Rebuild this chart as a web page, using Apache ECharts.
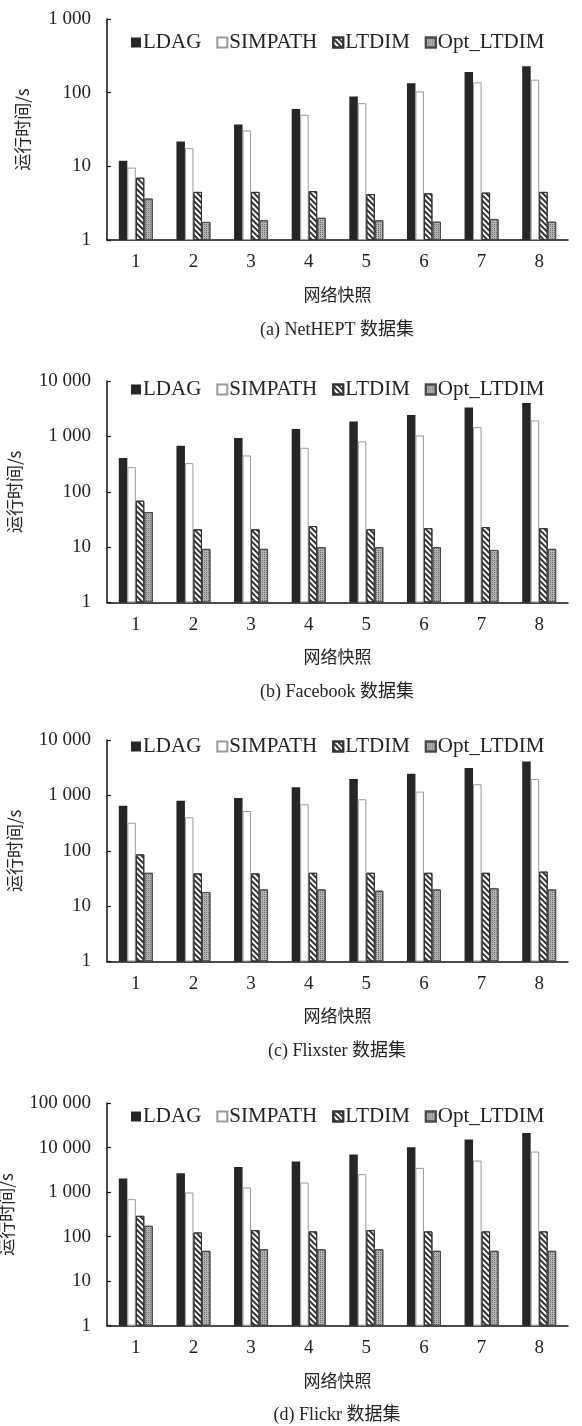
<!DOCTYPE html>
<html>
<head>
<meta charset="utf-8">
<script src="https://cdn.jsdelivr.net/npm/echarts@6/dist/echarts.min.js"></script>
<style>
html, body { margin: 0; padding: 0; background: #fff; }
#chart { width: 582px; height: 1426px; }
</style>
</head>
<body>
<div id="chart"></div>
<script>
var snapshots = ['1', '2', '3', '4', '5', '6', '7', '8'];
var seriesNames = ['LDAG', 'SIMPATH', 'LTDIM', 'Opt_LTDIM'];

// (a) NetHEPT
var netheptLDAG = [11.9, 21.7, 37, 60, 89, 134, 191, 228];
var netheptSIMPATH = [9.6, 17.7, 30.7, 50, 72, 104, 138, 150];
var netheptLTDIM = [7.0, 4.5, 4.5, 4.6, 4.2, 4.3, 4.4, 4.5];
var netheptOpt = [3.65, 1.76, 1.85, 2.0, 1.85, 1.77, 1.93, 1.77];

// (b) Facebook
var facebookLDAG = [405, 676, 931, 1355, 1860, 2430, 3330, 4000];
var facebookSIMPATH = [279, 329, 452, 622, 809, 1040, 1470, 1940];
var facebookLTDIM = [69, 21, 21, 24, 21, 22, 23, 22];
var facebookOpt = [43, 9.3, 9.3, 10, 10, 10, 8.9, 9.3];

// (c) Flixster
var flixsterLDAG = [651, 802, 897, 1400, 1980, 2470, 3130, 4070];
var flixsterSIMPATH = [321, 402, 522, 690, 851, 1170, 1590, 1980];
var flixsterLTDIM = [86, 39, 39, 40, 40, 40, 40, 42];
var flixsterOpt = [40, 18, 20, 20, 19, 20, 21, 20];

// (d) Flickr
var flickrLDAG = [2020, 2650, 3670, 4850, 6970, 10200, 15100, 21200];
var flickrSIMPATH = [693, 979, 1270, 1640, 2520, 3490, 5110, 8130];
var flickrLTDIM = [293, 124, 140, 131, 140, 131, 131, 131];
var flickrOpt = [175, 48, 52, 52, 52, 48, 48, 48];

var yMax = [1000, 10000, 10000, 100000];
var captions = ['(a) NetHEPT 数据集', '(b) Facebook 数据集', '(c) Flixster 数据集', '(d) Flickr 数据集'];
var yName = '运行时间/s';
var xName = '网络快照';

var panels = [
	{ top: 19, height: 221, legendTop: 27, nameGap: 76, data: [netheptLDAG, netheptSIMPATH, netheptLTDIM, netheptOpt] },
	{ top: 381, height: 221.5, legendTop: 374, nameGap: 84, data: [facebookLDAG, facebookSIMPATH, facebookLTDIM, facebookOpt] },
	{ top: 740, height: 221.5, legendTop: 731, nameGap: 84, data: [flixsterLDAG, flixsterSIMPATH, flixsterLTDIM, flixsterOpt] },
	{ top: 1103, height: 222.7, legendTop: 1101, nameGap: 92, data: [flickrLDAG, flickrSIMPATH, flickrLTDIM, flickrOpt] }
];

var serif = '"Liberation Serif", "Times New Roman", serif';
var cjk = '"Noto Sans CJK SC", sans-serif';

var barStyles = [
	{ color: '#262626' },
	{ color: '#ffffff', borderColor: '#9a9a9a', borderWidth: 1 },
	{
		color: '#ffffff', borderColor: '#333', borderWidth: 1,
		decal: { symbol: 'rect', symbolSize: 1, dashArrayX: [1, 0], dashArrayY: [2, 2], rotation: Math.PI / 4, color: '#333' }
	},
	{
		color: '#b4b4b4', borderColor: '#4a4a4a', borderWidth: 1,
		decal: { symbol: 'rect', symbolSize: 1, dashArrayX: [1, 1], dashArrayY: [1, 1], rotation: 0, color: 'rgba(60,60,60,0.6)' }
	}
];

function thousands(v) {
	return String(Math.round(v)).replace(/\B(?=(\d{3})+(?!\d))/g, ' ');
}

var grids = [], xAxes = [], yAxes = [], legends = [], series = [], graphics = [];

panels.forEach(function(p, i) {
	grids.push({ left: 107, right: 14, top: p.top, height: p.height, containLabel: false, outerBoundsMode: 'none' });

	xAxes.push({
		type: 'category',
		gridIndex: i,
		data: snapshots,
		name: xName,
		nameLocation: 'middle',
		nameGap: 46,
		nameTextStyle: { fontFamily: cjk, fontSize: 17, color: '#222' },
		axisLine: { lineStyle: { color: '#111', width: 1.5 } },
		axisTick: { inside: true, length: 5, lineStyle: { color: '#111', width: 1.2 } },
		axisLabel: { fontFamily: serif, fontSize: 19, color: '#222', margin: 13 }
	});

	yAxes.push({
		type: 'log',
		logBase: 10,
		gridIndex: i,
		min: 1,
		max: yMax[i],
		name: yName,
		nameLocation: 'middle',
		nameGap: p.nameGap,
		nameTextStyle: { fontFamily: cjk, fontSize: 17, color: '#222' },
		axisLine: { show: true, lineStyle: { color: '#111', width: 1.5 } },
		axisTick: { show: true, inside: true, length: 4, lineStyle: { color: '#111', width: 1.2 } },
		splitLine: { show: false },
		axisLabel: { fontFamily: serif, fontSize: 19, color: '#222', margin: 16, formatter: thousands }
	});

	legends.push({
		top: p.legendTop,
		left: 126,
		itemWidth: 10,
		itemHeight: 10,
		itemGap: 15,
		icon: 'rect',
		textStyle: { fontFamily: serif, fontSize: 21, color: '#222', padding: [0, 0, 0, -3] },
		data: seriesNames
	});

	seriesNames.forEach(function(name, k) {
		series.push({
			name: name,
			type: 'bar',
			xAxisIndex: i,
			yAxisIndex: i,
			barGap: '0%',
			barCategoryGap: '41%',
			itemStyle: barStyles[k],
			data: p.data[k]
		});
	});

	graphics.push({
		type: 'text',
		x: 337,
		y: p.top + p.height + 90,
		style: {
			text: captions[i],
			font: '18px ' + serif + ', ' + cjk,
			fill: '#222',
			textAlign: 'center',
			textVerticalAlign: 'middle'
		}
	});
});

var chart = echarts.init(document.getElementById('chart'), null, { renderer: 'canvas' });
chart.setOption({
	animation: false,
	backgroundColor: '#fff',
	grid: grids,
	xAxis: xAxes,
	yAxis: yAxes,
	legend: legends,
	series: series,
	graphic: graphics
});
</script>
</body>
</html>
